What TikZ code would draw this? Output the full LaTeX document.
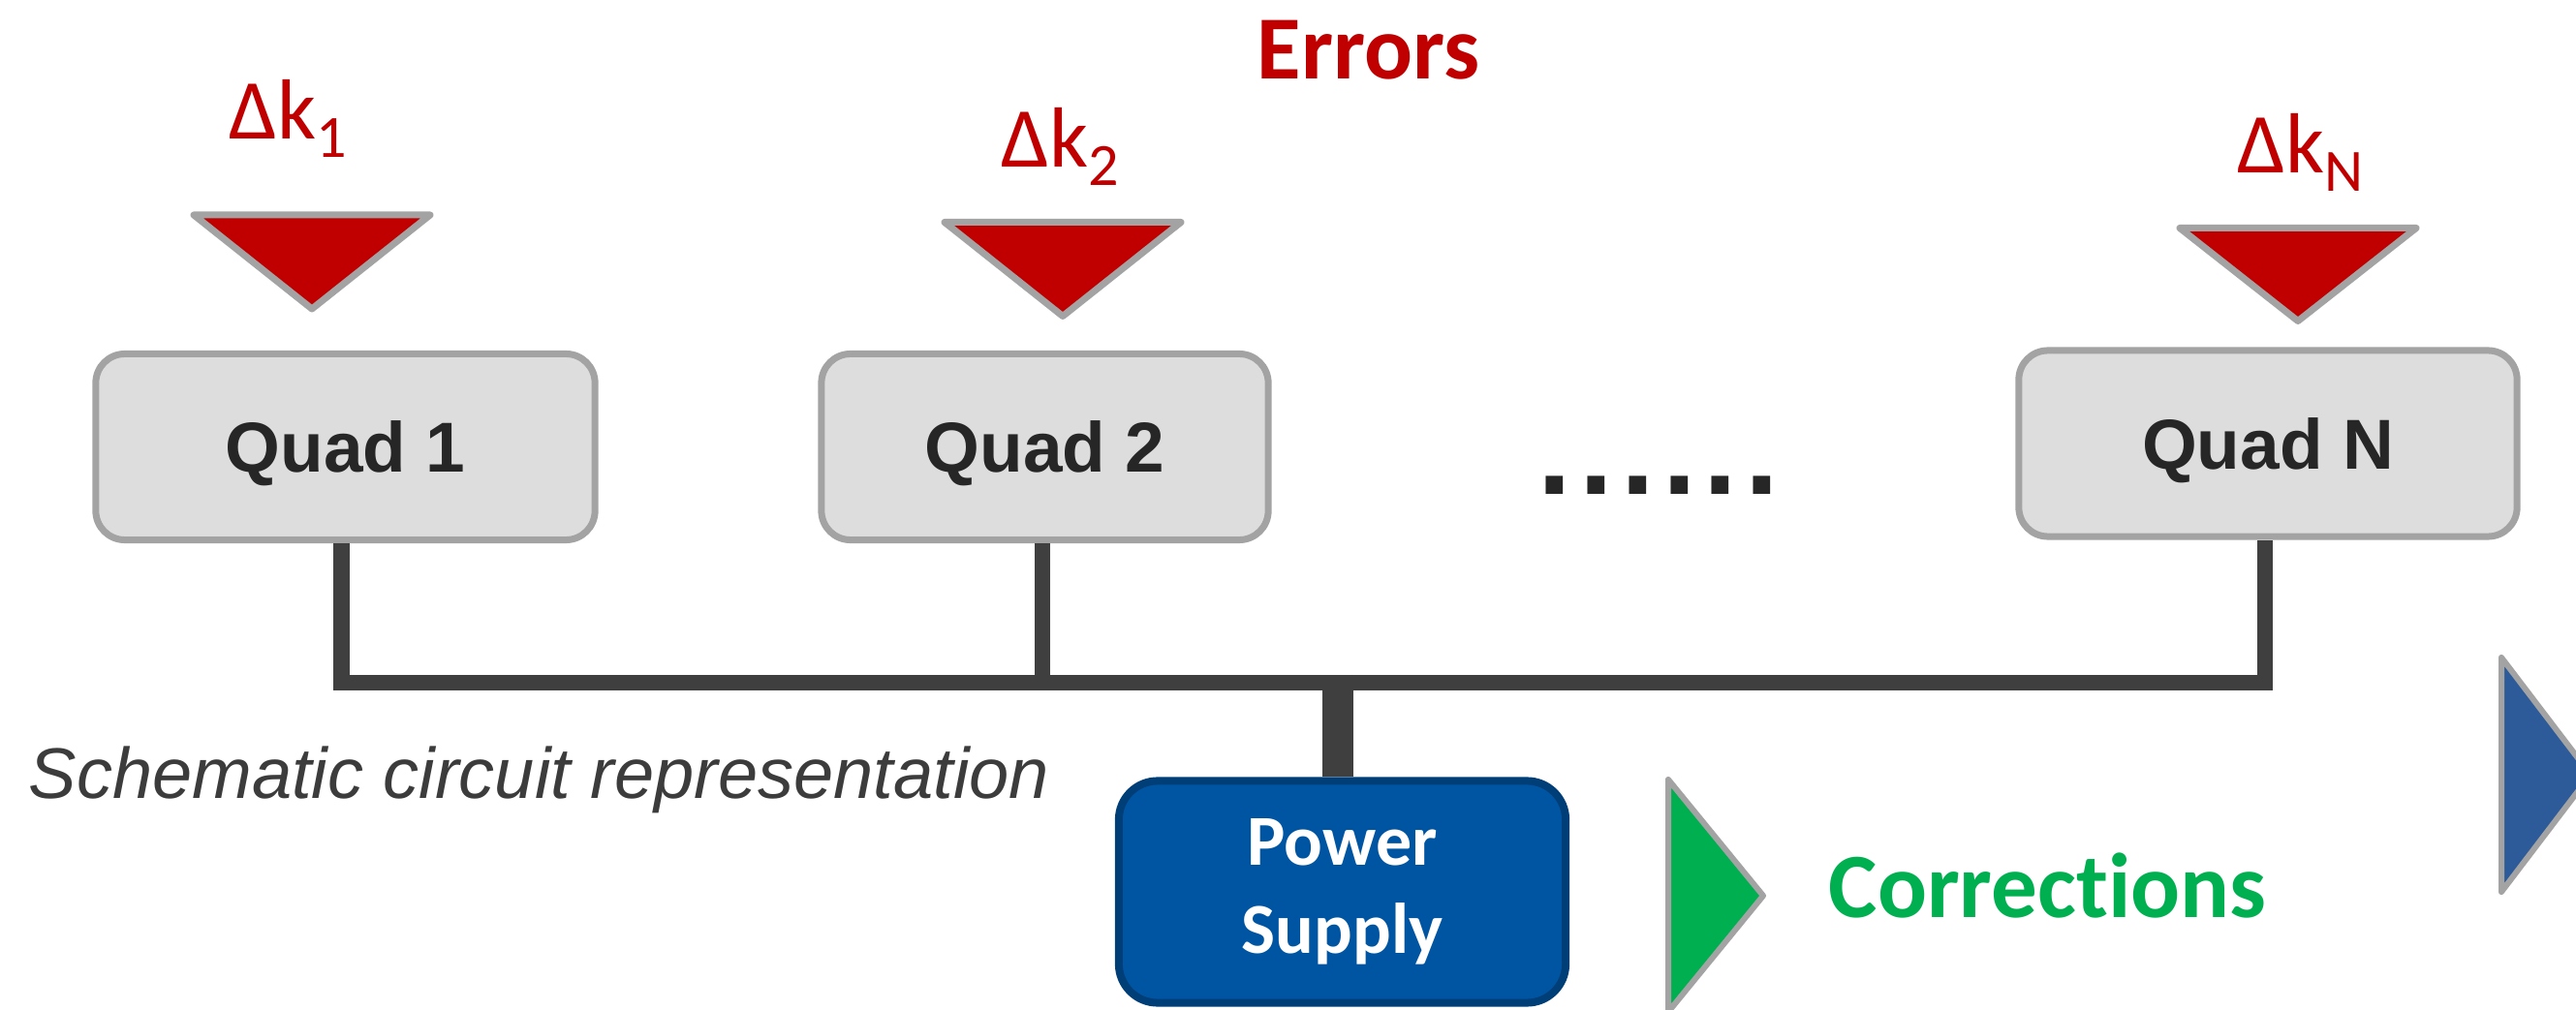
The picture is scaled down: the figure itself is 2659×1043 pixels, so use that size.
\documentclass[tikz,border=0pt]{standalone}
\usepackage{fontspec}
\setmainfont{Carlito}[Ligatures={NoCommon}]
\newfontfamily\arialf{Liberation Sans}
\definecolor{errred}{HTML}{C00000}
\definecolor{edgegray}{HTML}{A3A3A3}
\definecolor{quadfill}{HTML}{DDDDDD}
\definecolor{quadtext}{HTML}{262626}
\definecolor{wiregray}{HTML}{3F3F3F}
\definecolor{psfill}{HTML}{0055A3}
\definecolor{psedge}{HTML}{003E78}
\definecolor{corrgreen}{HTML}{00B050}
\definecolor{tribblue}{HTML}{2D5B9A}
\definecolor{captext}{HTML}{3C3C3C}
\newcommand\lowsub[1]{\raisebox{-0.18cm}{\fontsize{0.62cm}{0.7cm}\selectfont #1}}
\begin{document}
\begin{tikzpicture}[x=0.01cm,y=-0.01cm,
  quad/.style={draw=edgegray, line width=0.07cm, fill=quadfill, rounded corners=0.3cm,
    minimum height=1.92cm, inner sep=0pt, text=quadtext,
    font=\arialf\bfseries\fontsize{0.73cm}{0.9cm}\selectfont, text height=0.52cm, text depth=0cm},
  errtri/.style={draw=edgegray, fill=errred, line width=0.07cm, line join=round},
  sidetri/.style={draw=edgegray, line width=0.06cm, line join=round},
  dk/.style={inner sep=0pt, anchor=base west, text=errred, font=\fontsize{0.88cm}{1cm}\selectfont},
  wire/.style={draw=wiregray, line width=0.16cm, line join=miter},
  stemline/.style={draw=wiregray, line width=0.32cm},
  psbox/.style={draw=psedge, fill=psfill, line width=0.08cm, rounded corners=0.4cm,
    minimum width=4.61cm, minimum height=2.29cm, inner sep=0pt, align=center, text=white,
    font=\bfseries\fontsize{0.74cm}{0.91cm}\selectfont},
  plain/.style={inner sep=0pt, anchor=base west}]
\useasboundingbox (0,0) rectangle (2659,1043);

% error triangles
\draw[errtri] (200,222) -- (444,222) -- (322,319) -- cycle;
\draw[errtri] (975,229.5) -- (1219,229.5) -- (1097,326.5) -- cycle;
\draw[errtri] (2250,235.5) -- (2494,235.5) -- (2372,331.5) -- cycle;

% labels
\node[plain, text=errred, font=\bfseries\fontsize{0.93cm}{1.1cm}\selectfont] (errors) at (1297,82) {Errors};
\node[dk] (dk1) at (236,144) {Δk\lowsub{1}};
\node[dk] (dk2) at (1033,173) {Δk\lowsub{2}};
\node[dk] (dkN) at (2309,179) {Δk\lowsub{N}};

% quads
\node[quad, minimum width=5.15cm] (q1) at (356.5,461.5) {Quad 1};
\node[quad, minimum width=4.61cm] (q2) at (1078.5,461.5) {Quad 2};
\node[quad, minimum width=5.14cm] (qN) at (2341,458) {Quad N};

\node[plain, text=quadtext, font=\arialf\bfseries\fontsize{1.25cm}{1.4cm}\selectfont] (dots) at (1587,511)
  {.\kern0.08cm.\kern0.08cm.\kern0.08cm.\kern0.08cm.\kern0.08cm.};

% power supply
\node[psbox] (ps) at (1385.5,921) {Power\\Supply};

% wiring
\coordinate (bus) at (1381,705);
\draw[wire] ([xshift=-0.04cm]q1.south) |- (bus) -| ([xshift=-0.03cm]qN.south);
\draw[wire] ([xshift=-0.025cm]q2.south) -- ([xshift=-0.025cm]q2.south |- bus);
\draw[stemline] ([yshift=0.08cm]bus) -- (bus |- ps.north);

% caption
\node[plain, text=captext, font=\arialf\itshape\fontsize{0.74cm}{0.9cm}\selectfont] (caption) at (29,825)
  {Schematic circuit representation};

% corrections
\begin{scope}
\clip (0,0) rectangle (2659,1043);
\draw[sidetri, fill=corrgreen] (1722,805) -- (1820,925) -- (1722,1045) -- cycle;
\draw[sidetri, fill=tribblue] (2582,679) -- (2674,800) -- (2582,921) -- cycle;
\end{scope}
\node[plain, text=corrgreen, font=\bfseries\fontsize{0.95cm}{1.1cm}\selectfont] (corr) at (1887,948) {Corrections};
\end{tikzpicture}
\end{document}
